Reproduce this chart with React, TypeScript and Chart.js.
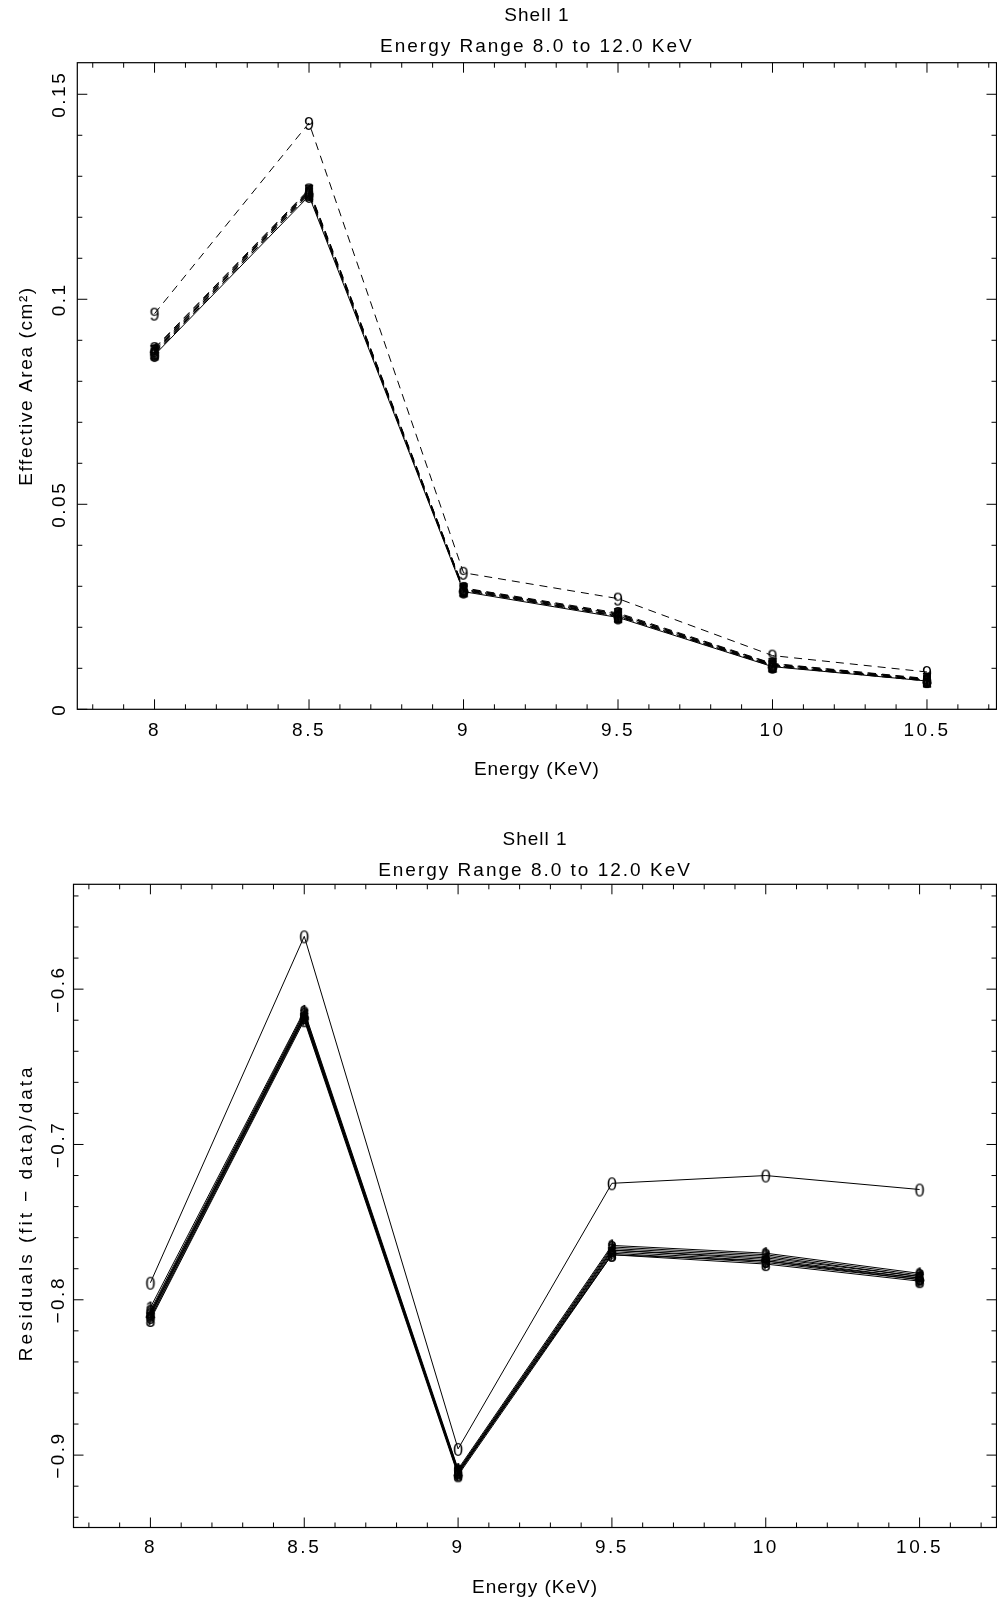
import React, { useEffect, useRef } from 'react';
import { Chart, registerables } from 'chart.js';

Chart.register(...registerables);

// ---------- data ----------
const energies = [8, 8.5, 9, 9.5, 10, 10.5];

// Effective area (cm^2), top panel
const areaOutlier = [0.0965, 0.143, 0.0333, 0.027, 0.0131, 0.0091];
const areaS0 = [0.0864, 0.1252, 0.0287, 0.0224, 0.0104, 0.0069];
const areaS1 = [0.0868, 0.1256, 0.029, 0.0227, 0.0106, 0.007];
const areaS2 = [0.0872, 0.126, 0.0292, 0.0229, 0.0108, 0.0071];
const areaS3 = [0.0876, 0.1263, 0.0294, 0.0231, 0.0109, 0.0072];
const areaS4 = [0.0879, 0.1266, 0.0295, 0.0233, 0.011, 0.0073];
const areaS5 = [0.0866, 0.1258, 0.0289, 0.0226, 0.0105, 0.0069];
const areaS6 = [0.087, 0.1262, 0.0291, 0.0228, 0.0107, 0.0071];
const areaS7 = [0.0874, 0.1265, 0.0293, 0.0232, 0.0111, 0.0074];
const areaS8 = [0.0881, 0.1268, 0.0296, 0.0235, 0.0112, 0.0075];

// Residuals (fit - data)/data, bottom panel
const resOutlier = [-0.789, -0.566, -0.896, -0.725, -0.72, -0.729];
const res1 = [-0.805, -0.614, -0.909, -0.765, -0.77, -0.783];
const res2 = [-0.807, -0.615, -0.91, -0.766, -0.771, -0.784];
const res3 = [-0.808, -0.616, -0.91, -0.767, -0.772, -0.785];
const res4 = [-0.809, -0.617, -0.911, -0.768, -0.773, -0.785];
const res5 = [-0.81, -0.617, -0.911, -0.768, -0.774, -0.786];
const res6 = [-0.811, -0.618, -0.912, -0.769, -0.775, -0.786];
const res7 = [-0.812, -0.619, -0.912, -0.77, -0.776, -0.787];
const res8 = [-0.813, -0.62, -0.913, -0.771, -0.777, -0.788];
const res9 = [-0.809, -0.618, -0.911, -0.771, -0.775, -0.787];

// ticks
const xTickValues = [8, 8.5, 9, 9.5, 10, 10.5];
const xTickLabels = ['8', '8.5', '9', '9.5', '10', '10.5'];
const areaTickValues = [0, 0.05, 0.1, 0.15];
const areaTickLabels = ['0', '0.05', '0.1', '0.15'];
const resTickValues = [-0.9, -0.8, -0.7, -0.6];
const resTickLabels = ['\u22120.9', '\u22120.8', '\u22120.7', '\u22120.6'];

const titleLines = ['Shell 1', 'Energy Range 8.0 to 12.0 KeV'];
const xTitle = 'Energy (KeV)';
const areaTitle = 'Effective Area (cm\u00B2)';
const resTitle = 'Residuals (fit \u2212 data)/data';

// ---------- style ----------
const INK = '#000';
const FONT = '19px "Liberation Sans", Arial, sans-serif';
const MARK_FONT = '18px "Liberation Sans", Arial, sans-serif';

function glyph(d: string): HTMLCanvasElement {
  const c = document.createElement('canvas');
  c.width = 16;
  c.height = 20;
  const g = c.getContext('2d')!;
  g.font = MARK_FONT;
  g.fillStyle = INK;
  g.textAlign = 'center';
  g.textBaseline = 'alphabetic';
  g.fillText(d, 8, 10 + 6.5);
  return c;
}

type FrameOpts = {
  xMinorStep: number;
  yMinorStep: number;
  yMajorStep: number;
  yTickValues: number[];
  yTickLabels: string[];
  yTitle: string;
  yTitleSpacing: string;
  yTitleShift: number;
  yLabelGap: number;
  titleOffsets: number[];
  xLabelOffset: number;
  xTitleOffset: number;
};

function setSpacing(ctx: any, s: string) {
  try {
    ctx.letterSpacing = s;
  } catch (e) {}
}

function makeFramePlugin(o: FrameOpts) {
  return {
    id: 'pgFrame',
    afterDraw(chart: any) {
      const { ctx, chartArea: a, scales } = chart;
      const xs = scales.x;
      const ys = scales.y;
      ctx.save();
      ctx.strokeStyle = INK;
      ctx.lineWidth = 1.2;
      ctx.strokeRect(a.left, a.top, a.right - a.left, a.bottom - a.top);

      ctx.lineWidth = 1;
      const seg = (x1: number, y1: number, x2: number, y2: number) => {
        ctx.beginPath();
        ctx.moveTo(x1, y1);
        ctx.lineTo(x2, y2);
        ctx.stroke();
      };
      const eps = 1e-9;
      const xStart = Math.ceil(xs.min / o.xMinorStep - eps);
      for (let k = xStart; k * o.xMinorStep <= xs.max + eps; k++) {
        const v = k * o.xMinorStep;
        const major = Math.abs(v / 0.5 - Math.round(v / 0.5)) < 1e-6;
        const len = major ? 10 : 5;
        const px = xs.getPixelForValue(v);
        seg(px, a.bottom, px, a.bottom - len);
        seg(px, a.top, px, a.top + len);
      }
      const yStart = Math.ceil(ys.min / o.yMinorStep - eps);
      for (let k = yStart; k * o.yMinorStep <= ys.max + eps; k++) {
        const v = k * o.yMinorStep;
        const major = Math.abs(v / o.yMajorStep - Math.round(v / o.yMajorStep)) < 1e-6;
        const len = major ? 10 : 5;
        const py = ys.getPixelForValue(v);
        seg(a.left, py, a.left + len, py);
        seg(a.right, py, a.right - len, py);
      }

      ctx.fillStyle = INK;
      ctx.font = FONT;
      ctx.textAlign = 'center';
      ctx.textBaseline = 'alphabetic';

      // numeric tick labels
      setSpacing(ctx, '2.5px');
      xTickValues.forEach((v, i) => {
        ctx.fillText(xTickLabels[i], xs.getPixelForValue(v), a.bottom + o.xLabelOffset);
      });
      o.yTickValues.forEach((v, i) => {
        const py = ys.getPixelForValue(v);
        ctx.save();
        ctx.translate(a.left - o.yLabelGap, py);
        ctx.rotate(-Math.PI / 2);
        ctx.fillText(o.yTickLabels[i], 0, 0);
        ctx.restore();
      });

      const cx = (a.left + a.right) / 2;
      const cy = (a.top + a.bottom) / 2;
      setSpacing(ctx, '1px');
      ctx.fillText(titleLines[0], cx, a.top - o.titleOffsets[0]);
      setSpacing(ctx, '2px');
      ctx.fillText(titleLines[1], cx, a.top - o.titleOffsets[1]);
      setSpacing(ctx, '1px');
      ctx.fillText(xTitle, cx, a.bottom + o.xTitleOffset);

      setSpacing(ctx, o.yTitleSpacing);
      ctx.save();
      ctx.translate(32, cy + o.yTitleShift);
      ctx.rotate(-Math.PI / 2);
      ctx.fillText(o.yTitle, 0, 0);
      ctx.restore();

      ctx.restore();
    },
  };
}

function series(vals: number[], mark: string, dashed: boolean) {
  return {
    data: energies.map((x, i) => ({ x, y: vals[i] })),
    borderColor: INK,
    backgroundColor: INK,
    borderWidth: 1,
    borderDash: dashed ? [8, 6] : [],
    pointStyle: glyph(mark),
    pointRadius: 6,
    tension: 0,
    fill: false,
  };
}

function baseOptions(pad: any, xMax: number, yMin: number, yMax: number) {
  return {
    animation: false,
    responsive: false,
    devicePixelRatio: 1,
    events: [],
    layout: { padding: pad, autoPadding: false },
    plugins: { legend: { display: false }, tooltip: { enabled: false }, title: { display: false } },
    scales: {
      x: { type: 'linear', min: 7.75, max: xMax, display: false },
      y: { type: 'linear', min: yMin, max: yMax, display: false },
    },
  };
}

function TopChart() {
  const ref = useRef<HTMLCanvasElement>(null);
  useEffect(() => {
    const datasets = [
      series(areaS0, '0', false),
      series(areaS1, '1', true),
      series(areaS2, '2', true),
      series(areaS3, '3', true),
      series(areaS4, '4', true),
      series(areaS5, '5', true),
      series(areaS6, '6', true),
      series(areaS7, '7', true),
      series(areaS8, '8', true),
      series(areaOutlier, '9', true),
    ];
    const chart = new Chart(ref.current!, {
      type: 'line',
      data: { datasets } as any,
      options: baseOptions({ left: 77.3, top: 62.7, right: 0.5, bottom: 91.7 }, 10.725, 0, 0.1577) as any,
      plugins: [
        makeFramePlugin({
          xMinorStep: 0.1,
          yMinorStep: 0.01,
          yMajorStep: 0.05,
          yTickValues: areaTickValues,
          yTickLabels: areaTickLabels,
          yTitle: areaTitle,
          yTitleSpacing: '1.6px',
          yTitleShift: 0,
          yLabelGap: 12.5,
          titleOffsets: [41.7, 10.9],
          xLabelOffset: 27,
          xTitleOffset: 66,
        }) as any,
      ],
    });
    return () => chart.destroy();
  }, []);
  return <canvas ref={ref} width={997} height={801} style={{ display: 'block', width: 997, height: 801 }} />;
}

function BottomChart() {
  const ref = useRef<HTMLCanvasElement>(null);
  useEffect(() => {
    const datasets = [
      series(resOutlier, '0', false),
      series(res1, '1', false),
      series(res2, '2', false),
      series(res3, '3', false),
      series(res4, '4', false),
      series(res5, '5', false),
      series(res6, '6', false),
      series(res7, '7', false),
      series(res8, '8', false),
      series(res9, '9', false),
    ];
    const chart = new Chart(ref.current!, {
      type: 'line',
      data: { datasets } as any,
      options: baseOptions({ left: 73.5, top: 83.3, right: 0.5, bottom: 74.5 }, 10.75, -0.9466, -0.5325) as any,
      plugins: [
        makeFramePlugin({
          xMinorStep: 0.1,
          yMinorStep: 0.02,
          yMajorStep: 0.1,
          yTickValues: resTickValues,
          yTickLabels: resTickLabels,
          yTitle: resTitle,
          yTitleSpacing: '2.95px',
          yTitleShift: 7,
          yLabelGap: 10,
          titleOffsets: [39.5, 8.5],
          xLabelOffset: 25,
          xTitleOffset: 65,
        }) as any,
      ],
    });
    return () => chart.destroy();
  }, []);
  return <canvas ref={ref} width={997} height={801} style={{ display: 'block', width: 997, height: 801 }} />;
}

export default function App() {
  return (
    <div style={{ position: 'absolute', left: 0, top: 0, width: 997, height: 1602, background: '#fff', overflow: 'hidden' }}>
      <TopChart />
      <BottomChart />
    </div>
  );
}
